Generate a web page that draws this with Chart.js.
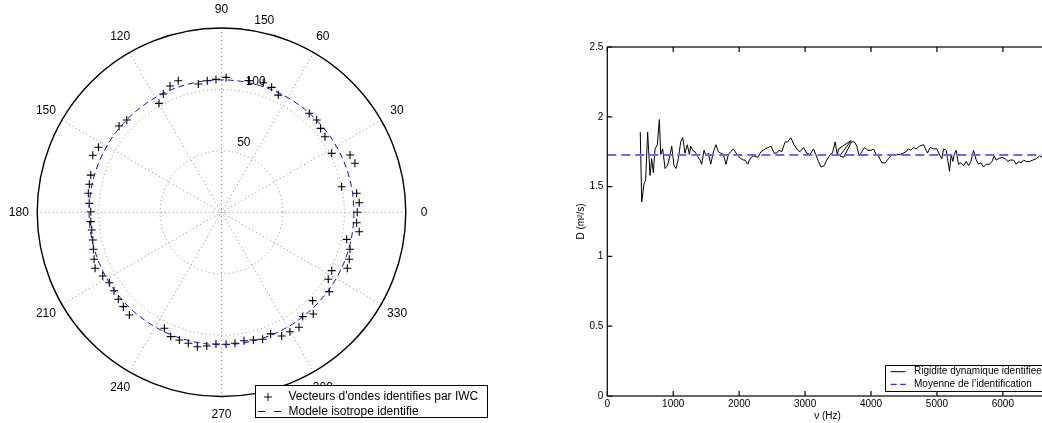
<!DOCTYPE html>
<html>
<head>
<meta charset="utf-8">
<script src="https://cdn.jsdelivr.net/npm/chart.js@4.4.0/dist/chart.umd.min.js"></script>
<style>
  html, body { margin: 0; padding: 0; background: #fff; overflow: hidden; }
  #wrap { position: relative; width: 1042px; height: 423px; overflow: hidden; }
  #polar { position: absolute; left: 0; top: 0; }
  #rigid { position: absolute; left: 540px; top: 0; }
</style>
</head>
<body>
<div id="wrap">
  <canvas id="polar" width="540" height="423"></canvas>
  <canvas id="rigid" width="520" height="423"></canvas>
</div>
<script>
// ---- left panel: identified wave vectors (kx, ky) ----
const kx = [110.5, 112.1, 110.0, 97.8, 108.6, 104.6, 89.7, 84.2, 80.7, 77.5, 71.4, 46.2, 40.8, 34.0, 22.0,
  3.7, -4.5, -11.6, -18.9, -35.2, -41.9, -47.4, -50.9, -77.1, -83.4, -100.2, -104.8, -106.4, -107.6,
  -108.4, -107.6, -106.4, -106.4, -105.6, -104.8, -104.3, -103.7, -102.9, -96.7, -91.3, -87.5, -84.0,
  -79.9, -75.0, -46.5, -41.3, -34.3, -27.0, -19.7, -12.0, -4.5, 3.7, 11.0, 18.3, 25.9, 33.5, 40.0,
  49.0, 55.7, 63.1, 66.1, 74.7, 74.2, 87.7, 86.9, 89.7, 102.4, 104.0, 104.6, 101.9, 112.1, 110.0];
const ky = [0.0, 7.8, 15.5, 20.8, 39.9, 46.6, 48.0, 61.5, 68.3, 75.1, 80.6, 95.4, 101.7, 105.5, 107.2,
  109.8, 108.2, 107.1, 104.4, 107.1, 102.8, 96.3, 88.7, 75.1, 70.2, 52.9, 46.4, 30.3, 22.8,
  15.5, 7.3, 0.5, -7.6, -14.4, -22.5, -30.1, -38.2, -45.6, -51.8, -57.3, -63.8, -70.8,
  -76.8, -83.6, -94.4, -101.2, -103.9, -106.6, -109.4, -108.8, -107.2, -107.4, -106.6, -104.5, -103.9, -103.3, -99.0,
  -100.7, -97.2, -93.6, -84.9, -82.8, -71.9, -64.6, -54.5, -47.5, -45.6, -38.2, -30.1, -22.0, -15.8, -8.5];
const modelRadius = 107.8;
const ringValues = [50, 100, 150];
const angleLabels = [0, 30, 60, 90, 120, 150, 180, 210, 240, 270, 300, 330];
const polarLegend = ["Vecteurs d'ondes identifies par IWC", "Modele isotrope identifie"];

// ---- right panel: dynamic rigidity vs frequency ----
const freqHz = [500, 522, 557, 582, 612, 648, 673, 698, 724, 759, 790, 810, 840, 876, 911, 951, 977,
  1012, 1043, 1078, 1113, 1144, 1179, 1214, 1245, 1265, 1295, 1331, 1366, 1407, 1432, 1467, 1498,
  1533, 1569, 1609, 1649, 1685, 1720, 1760, 1801, 1837, 1872, 1912, 1953, 1988, 2023, 2064, 2090,
  2130, 2165, 2216, 2282, 2332, 2393, 2443, 2484, 2530, 2570, 2605, 2646, 2697, 2737, 2783, 2833,
  2889, 2925, 2975, 3026, 3076, 3127, 3162, 3203, 3243, 3289, 3329, 3380, 3415, 3456, 3490, 3505,
  3700, 3525, 3585, 3705, 3749, 3785, 3820, 3861, 3901, 3952, 4002, 4038, 4078, 4114, 4164, 4215,
  4265, 4316, 4356, 4390, 4441, 4492, 4532, 4568, 4603, 4644, 4684, 4735, 4796, 4857, 4897, 4948,
  4998, 5049, 5074, 5100, 5140, 5160, 5191, 5216, 5241, 5262, 5292, 5327, 5363, 5403, 5444, 5479,
  5515, 5555, 5596, 5631, 5667, 5707, 5748, 5798, 5834, 5869, 5899, 5935, 5986, 6036, 6071, 6112,
  6162, 6203, 6238, 6274, 6314, 6355, 6405, 6456, 6506, 6557, 6592, 6650];
const rigidity = [1.89, 1.39, 1.52, 1.55, 1.89, 1.58, 1.70, 1.60, 1.77, 1.80, 1.98, 1.73, 1.77, 1.63, 1.65, 1.72, 1.79,
  1.65, 1.63, 1.70, 1.82, 1.85, 1.74, 1.80, 1.73, 1.79, 1.76, 1.75, 1.72, 1.69, 1.66, 1.76, 1.72,
  1.74, 1.66, 1.75, 1.80, 1.75, 1.74, 1.73, 1.66, 1.73, 1.75, 1.77, 1.74, 1.72, 1.70, 1.69, 1.69,
  1.66, 1.70, 1.72, 1.71, 1.75, 1.77, 1.78, 1.79, 1.74, 1.74, 1.76, 1.75, 1.82, 1.82, 1.85, 1.80,
  1.76, 1.75, 1.78, 1.74, 1.73, 1.77, 1.73, 1.68, 1.64, 1.65, 1.69, 1.73, 1.74, 1.82, 1.72, 1.77,
  1.83, 1.72, 1.71, 1.82, 1.82, 1.79, 1.72, 1.75, 1.78, 1.76, 1.76, 1.77, 1.73, 1.72, 1.67, 1.67,
  1.70, 1.73, 1.73, 1.73, 1.73, 1.74, 1.75, 1.77, 1.76, 1.78, 1.77, 1.79, 1.80, 1.74, 1.78, 1.77,
  1.77, 1.72, 1.70, 1.77, 1.76, 1.70, 1.61, 1.73, 1.68, 1.73, 1.76, 1.66, 1.67, 1.65, 1.68, 1.65,
  1.68, 1.76, 1.69, 1.66, 1.67, 1.64, 1.66, 1.66, 1.68, 1.72, 1.69, 1.70, 1.71, 1.70, 1.68, 1.69,
  1.69, 1.66, 1.68, 1.67, 1.69, 1.68, 1.68, 1.69, 1.70, 1.72, 1.71, 1.72];
const meanRigidity = 1.727;
const freqLimits = [0, 6680];
const freqTicks = [0, 1000, 2000, 3000, 4000, 5000, 6000];
const rigidLimits = [0, 2.5];
const rigidTicks = [0, 0.5, 1, 1.5, 2, 2.5];
const rigidLegend = ["Rigidite dynamique identifiee", "Moyenne de l\u2019identification"];

const FONT = '"Liberation Sans", Arial, Helvetica, sans-serif';
const rMax = ringValues[ringValues.length - 1];
const rLabel = rMax * 1.1;
const rad = d => d * Math.PI / 180;

// polar grid, labels and isotropic model circle
const polarDecor = {
  id: 'polarDecor',
  beforeDatasetsDraw(chart) {
    const { ctx, scales: { x, y } } = chart;
    const cx = x.getPixelForValue(0), cy = y.getPixelForValue(0);
    const pr = v => x.getPixelForValue(v) - cx;
    ctx.save();
    ctx.strokeStyle = '#8a8a8a';
    ctx.lineWidth = 1;
    ctx.setLineDash([1, 3]);
    ringValues.slice(0, -1).forEach(r => {
      ctx.beginPath(); ctx.arc(cx, cy, pr(r), 0, 2 * Math.PI); ctx.stroke();
    });
    ctx.beginPath(); ctx.arc(cx, cy, pr(2.2), 0, 2 * Math.PI); ctx.stroke();
    for (let a = 0; a < 180; a += 30) {
      const c = Math.cos(rad(a)), s = Math.sin(rad(a));
      ctx.beginPath();
      ctx.moveTo(x.getPixelForValue(rMax * c), y.getPixelForValue(rMax * s));
      ctx.lineTo(x.getPixelForValue(-rMax * c), y.getPixelForValue(-rMax * s));
      ctx.stroke();
    }
    ctx.setLineDash([]);
    ctx.strokeStyle = '#000';
    ctx.lineWidth = 1.4;
    ctx.beginPath(); ctx.arc(cx, cy, pr(rMax), 0, 2 * Math.PI); ctx.stroke();

    ctx.fillStyle = '#000';
    ctx.font = '12px ' + FONT;
    ctx.textAlign = 'center';
    ctx.textBaseline = 'middle';
    angleLabels.forEach(a => {
      ctx.fillText(String(a), x.getPixelForValue(rLabel * Math.cos(rad(a))), y.getPixelForValue(rLabel * Math.sin(rad(a))));
    });
    ctx.textAlign = 'left';
    ctx.textBaseline = 'bottom';
    ringValues.forEach(r => {
      const rr = r + 2.5;
      ctx.fillText('  ' + r, x.getPixelForValue(rr * Math.cos(rad(82))), y.getPixelForValue(rr * Math.sin(rad(82))));
    });
    ctx.restore();
  },
  afterDatasetsDraw(chart) {
    const { ctx, scales: { x, y } } = chart;
    const cx = x.getPixelForValue(0), cy = y.getPixelForValue(0);
    ctx.save();
    ctx.strokeStyle = '#0000ff';
    ctx.lineWidth = 1;
    ctx.setLineDash([6, 4]);
    ctx.beginPath();
    ctx.arc(cx, cy, x.getPixelForValue(modelRadius) - cx, 0, 2 * Math.PI);
    ctx.stroke();
    ctx.restore();
  },
  afterDraw(chart) {
    const ctx = chart.ctx;
    ctx.save();
    ctx.fillStyle = '#fff';
    ctx.fillRect(255, 385.5, 232, 32);
    ctx.strokeStyle = '#000';
    ctx.lineWidth = 1;
    ctx.strokeRect(255.5, 385.5, 232, 32);
    // marker sample
    ctx.beginPath();
    ctx.moveTo(264, 397); ctx.lineTo(272, 397);
    ctx.moveTo(268, 393); ctx.lineTo(268, 401);
    ctx.stroke();
    // dashed sample
    ctx.strokeStyle = '#0000ff';
    ctx.setLineDash([7, 9]);
    ctx.beginPath(); ctx.moveTo(258, 411.5); ctx.lineTo(281.5, 411.5); ctx.stroke();
    ctx.fillStyle = '#000';
    ctx.font = '12px ' + FONT;
    ctx.textAlign = 'left';
    ctx.textBaseline = 'middle';
    ctx.fillText(polarLegend[0], 288.5, 397);
    ctx.fillText(polarLegend[1], 288.5, 411.5);
    ctx.restore();
  }
};

new Chart(document.getElementById('polar'), {
  type: 'scatter',
  data: {
    datasets: [{
      label: polarLegend[0],
      data: kx.map((v, i) => ({ x: v, y: ky[i] })),
      pointStyle: 'cross',
      pointRadius: 4,
      pointBorderColor: '#000',
      pointBorderWidth: 1.1,
      showLine: false
    }]
  },
  options: {
    responsive: false,
    animation: false,
    events: [],
    layout: { padding: { left: 18.8, right: 115.8, top: 9.6, bottom: 8 } },
    scales: {
      x: { type: 'linear', min: -rLabel, max: rLabel, display: false },
      y: { type: 'linear', min: -rLabel, max: rLabel, display: false }
    },
    plugins: { legend: { display: false }, tooltip: { enabled: false } }
  },
  plugins: [polarDecor]
});

// box, inward ticks, axis titles and legend for the rigidity plot
const rigidDecor = {
  id: 'rigidDecor',
  afterDraw(chart) {
    const { ctx, chartArea: a, scales: { x, y } } = chart;
    ctx.save();
    ctx.strokeStyle = '#000';
    ctx.lineWidth = 1.2;
    ctx.strokeRect(a.left, a.top, a.right - a.left, a.bottom - a.top);
    ctx.beginPath();
    x.ticks.forEach(t => {
      const px = x.getPixelForValue(t.value);
      ctx.moveTo(px, a.bottom); ctx.lineTo(px, a.bottom - 5);
      ctx.moveTo(px, a.top); ctx.lineTo(px, a.top + 5);
    });
    y.ticks.forEach(t => {
      const py = y.getPixelForValue(t.value);
      ctx.moveTo(a.left, py); ctx.lineTo(a.left + 5, py);
      ctx.moveTo(a.right, py); ctx.lineTo(a.right - 5, py);
    });
    ctx.stroke();

    ctx.fillStyle = '#000';
    ctx.font = '10px ' + FONT;
    ctx.textAlign = 'center';
    ctx.textBaseline = 'middle';
    ctx.fillText('\u03bd (Hz)', (a.left + a.right) / 2, 416.5);
    ctx.save();
    ctx.translate(41.7, (a.top + a.bottom) / 2);
    ctx.rotate(-Math.PI / 2);
    ctx.fillText('D (m\u00b2/s)', 0, 0);
    ctx.restore();

    // legend
    ctx.fillStyle = '#fff';
    ctx.fillRect(345, 365, 162, 26);
    ctx.lineWidth = 1;
    ctx.strokeRect(345.5, 365.5, 162, 26);
    ctx.beginPath(); ctx.moveTo(350.5, 371.7); ctx.lineTo(365.5, 371.7); ctx.stroke();
    ctx.strokeStyle = '#2a2aff';
    ctx.lineWidth = 1.3;
    ctx.setLineDash([6, 3.5]);
    ctx.beginPath(); ctx.moveTo(350.7, 384.3); ctx.lineTo(365.7, 384.3); ctx.stroke();
    ctx.fillStyle = '#000';
    ctx.textAlign = 'left';
    ctx.fillText(rigidLegend[0], 374, 371.7);
    ctx.fillText(rigidLegend[1], 374, 384.3);
    ctx.restore();
  }
};

new Chart(document.getElementById('rigid'), {
  type: 'line',
  data: {
    datasets: [{
      label: rigidLegend[0],
      data: freqHz.map((f, i) => ({ x: f, y: rigidity[i] })),
      borderColor: '#000',
      borderWidth: 1,
      pointRadius: 0,
      tension: 0,
      order: 2
    }, {
      label: rigidLegend[1],
      data: freqLimits.map(f => ({ x: f, y: meanRigidity })),
      borderColor: '#6a6aff',
      borderWidth: 2,
      borderDash: [9, 5],
      pointRadius: 0,
      order: 1
    }]
  },
  options: {
    responsive: false,
    animation: false,
    events: [],
    layout: { padding: { left: 0, right: 12.3, top: 47, bottom: 0 } },
    scales: {
      x: {
        type: 'linear',
        min: freqLimits[0],
        max: freqLimits[1],
        grid: { display: false, drawTicks: false, tickLength: 0 },
        border: { display: false },
        ticks: {
          maxRotation: 0, autoSkip: false, padding: 2,
          color: '#000', font: { family: FONT, size: 10 },
          callback: v => String(v)
        },
        afterBuildTicks: s => { s.ticks = freqTicks.map(v => ({ value: v })); },
        afterFit: s => { s.height = 27; }
      },
      y: {
        type: 'linear',
        min: rigidLimits[0],
        max: rigidLimits[1],
        grid: { display: false, drawTicks: false, tickLength: 0 },
        border: { display: false },
        ticks: {
          padding: 4,
          color: '#000', font: { family: FONT, size: 10 },
          callback: v => String(v)
        },
        afterBuildTicks: s => { s.ticks = rigidTicks.map(v => ({ value: v })); },
        afterFit: s => { s.width = 67.3; }
      }
    },
    plugins: { legend: { display: false }, tooltip: { enabled: false } }
  },
  plugins: [rigidDecor]
});
</script>
</body>
</html>
